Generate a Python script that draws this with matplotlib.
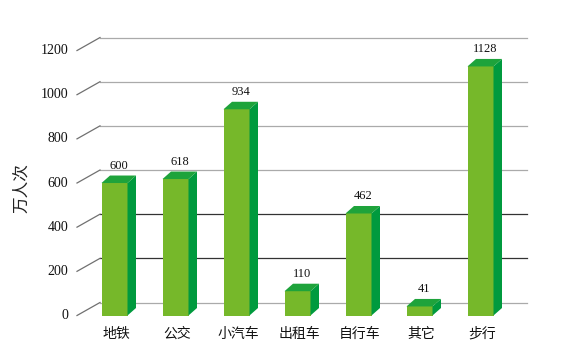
import matplotlib
matplotlib.use("Agg")
import matplotlib.pyplot as plt
from matplotlib.patches import Polygon

# data
categories = ["地铁", "公交", "小汽车", "出租车", "自行车", "其它", "步行"]
values = [600, 618, 934, 110, 462, 41, 1128]
y_ticks = [0, 200, 400, 600, 800, 1000, 1200]
y_label = "万人次"

# colours
front_col = "#76b82a"
side_col = "#009a3e"
top_col = "#1ea33b"

# geometry (px per unit, used to keep the oblique look)
px_x = 61.0      # pixels per category
px_y = 0.2208    # pixels per value unit
W, H = 575, 356
x0_px, y0_px = 114.5, 315.5   # front-plane position of category 0 / value 0

def to_x(px):
    return (px - x0_px) / px_x

def dy(px):
    return px / px_y

cjk = ["Noto Sans CJK SC", "DejaVu Sans"]
num_font = "Liberation Serif"

fig = plt.figure(figsize=(W / 100, H / 100), dpi=100)
ax = fig.add_axes([0, 0, 1, 1])
ax.set_xlim(to_x(0), to_x(W))
ax.set_ylim(-dy(H - y0_px), dy(y0_px))
ax.axis("off")

# wall / floor depth
wall_dx = 23 / px_x
wall_dy = dy(13)
front_left = to_x(77)
back_right = to_x(527)

for t in y_ticks:
    dark = t in (200, 400)
    col = "#333333" if dark else "#aaaaaa"
    ax.plot([front_left + wall_dx, back_right], [t + wall_dy, t + wall_dy],
            color=col, lw=0.9, zorder=1)
    ax.plot([front_left, front_left + wall_dx], [t, t + wall_dy],
            color="#707070", lw=0.9, zorder=1)
    ax.text(to_x(68), t, str(t), ha="right", va="center",
            fontsize=10, family=num_font, color="#111111")

# bars
hw = 13 / px_x
bdx = 8.5 / px_x
bdy = dy(7.5)
for i, (cat, v) in enumerate(zip(categories, values)):
    l, r = i - hw, i + hw
    ax.add_patch(Polygon([(l, 0), (r, 0), (r, v), (l, v)],
                         closed=True, facecolor=front_col, edgecolor="none", zorder=3))
    ax.add_patch(Polygon([(r, 0), (r + bdx, bdy), (r + bdx, v + bdy), (r, v)],
                         closed=True, facecolor=side_col, edgecolor="none", zorder=3))
    ax.add_patch(Polygon([(l, v), (r, v), (r + bdx, v + bdy), (l + bdx, v + bdy)],
                         closed=True, facecolor=top_col, edgecolor="none", zorder=3))
    ax.text(i + bdx / 2, v + bdy + dy(4), str(v), ha="center", va="bottom",
            fontsize=9, family=num_font, color="#111111", zorder=4)
    ax.text(i + 1.5 / px_x, dy(-18.5), cat, ha="center", va="center",
            fontsize=10, family=cjk, color="#111111")

ax.text(to_x(22), dy(315.5 - 188), y_label, rotation=90, ha="center", va="center",
        fontsize=12, family=cjk, color="#222222")

fig.savefig("out.png", dpi=100)
